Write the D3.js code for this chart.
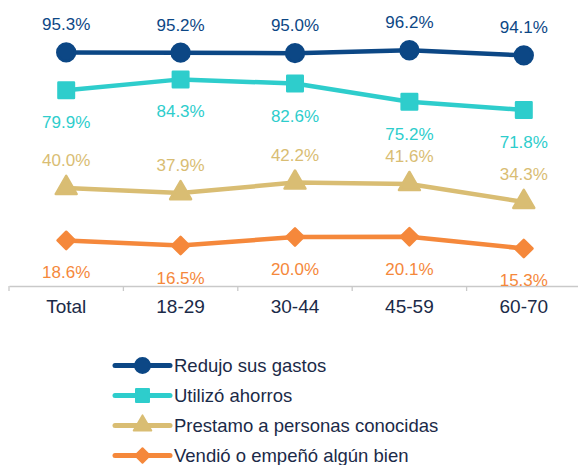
<!DOCTYPE html>
<html>
<head>
<meta charset="utf-8">
<script src="https://cdn.jsdelivr.net/npm/d3@7"></script>
<style>
  body { margin: 0; background: #fff; }
  text { font-family: "Liberation Sans", Arial, sans-serif; }
</style>
</head>
<body>
<svg id="chart" width="578" height="465"></svg>
<script>
// data
const categories = ["Total", "18-29", "30-44", "45-59", "60-70"];
const seriesNames = ["Redujo sus gastos", "Utilizó ahorros", "Prestamo a personas conocidas", "Vendió o empeñó algún bien"];
const redujo = [95.3, 95.2, 95.0, 96.2, 94.1];
const utilizo = [79.9, 84.3, 82.6, 75.2, 71.8];
const prestamo = [40.0, 37.9, 42.2, 41.6, 34.3];
const vendio = [18.6, 16.5, 20.0, 20.1, 15.3];

const colors = ["#0c4785", "#2ecdcc", "#d9bd73", "#f5883b"];
const shapes = [d3.symbolCircle, d3.symbolSquare, d3.symbolTriangle, d3.symbolSquare];
const symSizes = [250, 240, 190, 150];
const rotations = [0, 0, 0, 45];
const labelPos = ["above", "below", "above", "below"];

const series = [redujo, utilizo, prestamo, vendio].map((vals, i) => ({
  name: seriesNames[i], values: vals, color: colors[i], shape: shapes[i],
  size: symSizes[i], rot: rotations[i], pos: labelPos[i]
}));

const svg = d3.select("#chart");
const x = d3.scaleBand().domain(categories).range([9, 581]);
const y = d3.scaleLinear().domain([0, 100]).range([286, 40.9]);
const cx = d => x(d) + x.bandwidth() / 2;

// axis
const axis = svg.append("g")
  .attr("transform", "translate(0,286)")
  .call(d3.axisBottom(x).tickSize(0).tickPadding(14));
axis.select(".domain").attr("stroke", "#c9c9c9").attr("stroke-width", 1.3);
axis.selectAll(".tick text")
  .attr("font-size", 19)
  .attr("fill", "#1b2a48")
  .attr("font-family", "Liberation Sans, Arial, sans-serif");
// ticks between categories
axis.selectAll(".sep")
  .data(categories)
  .enter().append("line")
  .attr("class", "sep")
  .attr("x1", d => x(d)).attr("x2", d => x(d))
  .attr("y1", 0).attr("y2", 5)
  .attr("stroke", "#c9c9c9").attr("stroke-width", 1.3);

// lines
const line = d3.line()
  .x((d, i) => cx(categories[i]))
  .y(d => y(d));

const g = svg.selectAll(".series")
  .data(series)
  .enter().append("g")
  .attr("class", "series");

g.append("path")
  .attr("d", d => line(d.values))
  .attr("fill", "none")
  .attr("stroke", d => d.color)
  .attr("stroke-width", 4.5)
  .attr("stroke-linejoin", "round");

g.each(function(s) {
  const sel = d3.select(this);
  sel.selectAll(".mark")
    .data(s.values)
    .enter().append("path")
    .attr("class", "mark")
    .attr("transform", (d, i) => "translate(" + cx(categories[i]) + "," + y(d) + ") rotate(" + s.rot + ")")
    .attr("d", d3.symbol().type(s.shape).size(s.size))
    .attr("fill", s.color)
    .attr("stroke", s.color)
    .attr("stroke-width", 2.5)
    .attr("stroke-linejoin", "round");

  sel.selectAll(".lbl")
    .data(s.values)
    .enter().append("text")
    .attr("class", "lbl")
    .attr("x", (d, i) => cx(categories[i]))
    .attr("y", d => y(d) + (s.pos === "above" ? -22 : 38))
    .attr("text-anchor", "middle")
    .attr("font-size", 17)
    .attr("fill", s.color)
    .text(d => d.toFixed(1) + "%");
});

// legend
const legend = svg.append("g").attr("transform", "translate(115,365.5)");
const item = legend.selectAll(".item")
  .data(series)
  .enter().append("g")
  .attr("class", "item")
  .attr("transform", (d, i) => "translate(0," + i * 30 + ")");

item.append("line")
  .attr("x1", 0).attr("x2", 55)
  .attr("stroke", d => d.color)
  .attr("stroke-width", 5)
  .attr("stroke-linecap", "round");

item.append("path")
  .attr("transform", d => "translate(27.5,0) rotate(" + d.rot + ")")
  .attr("d", d => d3.symbol().type(d.shape).size(d.size * 0.7)())
  .attr("fill", d => d.color)
  .attr("stroke", d => d.color)
  .attr("stroke-width", 2)
  .attr("stroke-linejoin", "round");

item.append("text")
  .attr("x", 59)
  .attr("y", 6.5)
  .attr("font-size", 18.5)
  .attr("fill", "#1b2a48")
  .text(d => d.name);
</script>
</body>
</html>
